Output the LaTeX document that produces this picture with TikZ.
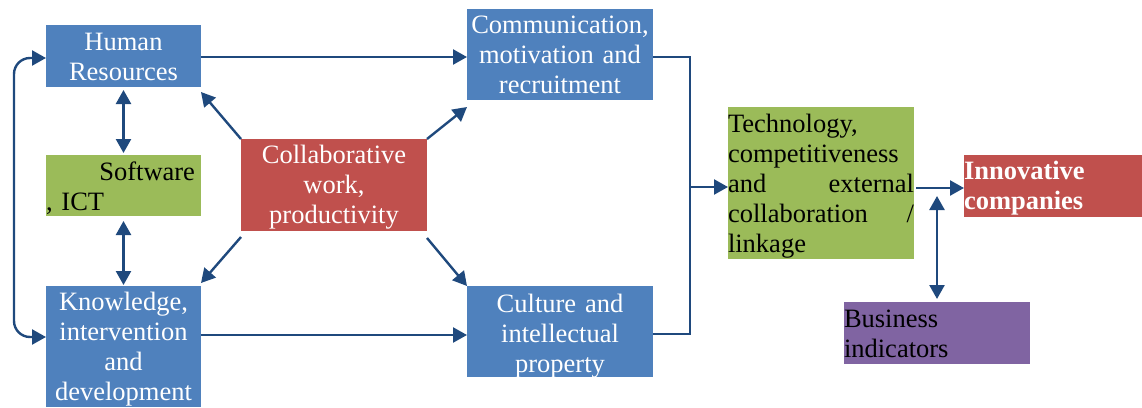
\documentclass[tikz,border=0pt]{standalone}
\usepackage{fontspec}
\setmainfont{Liberation Serif}
\usetikzlibrary{arrows.meta,calc}
\definecolor{boxblue}{HTML}{4F81BD}
\definecolor{boxgreen}{HTML}{9BBB59}
\definecolor{boxred}{HTML}{C0504D}
\definecolor{boxpurple}{HTML}{8064A2}
\definecolor{linkblue}{HTML}{1F497D}

\begin{document}
\begin{tikzpicture}[x=1pt,y=-1pt,
  box/.style={draw=none, inner sep=0pt, outer sep=0pt, anchor=north west},
  lbl/.style={inner sep=0pt, outer sep=0pt, font=\fontsize{26.5}{30}\selectfont},
  mid/.style={lbl, anchor=base, align=center},
  flush/.style={lbl, anchor=base west, align=left},
  wire/.style={draw=linkblue, line width=2.4pt, miter limit=10},
  link/.style={wire, -{Triangle[length=14pt,width=15pt]}},
  twoway/.style={wire, {Triangle[length=14pt,width=15pt]}-{Triangle[length=14pt,width=15pt]}},
]
\useasboundingbox (0,0) rectangle (1142,407);

% boxes
\node[box, fill=boxblue,   minimum width=155pt, minimum height=62pt]  (hr)     at (46,25)  {};
\node[box, fill=boxgreen,  minimum width=155pt, minimum height=61pt]  (sw)     at (46,155) {};
\node[box, fill=boxblue,   minimum width=155pt, minimum height=121pt] (kn)     at (46,286) {};
\node[box, fill=boxred,    minimum width=186pt, minimum height=92pt]  (collab) at (241,139) {};
\node[box, fill=boxblue,   minimum width=186pt, minimum height=91pt]  (comm)   at (467,9)  {};
\node[box, fill=boxblue,   minimum width=186pt, minimum height=91pt]  (cult)   at (467,286) {};
\node[box, fill=boxgreen,  minimum width=186pt, minimum height=152pt] (tech)   at (728,107) {};
\node[box, fill=boxred,    minimum width=178pt, minimum height=62pt]  (innov)  at (964,155) {};
\node[box, fill=boxpurple, minimum width=186pt, minimum height=62pt]  (bus)    at (844,302) {};

% texts
\node[mid, text=white, text width=155pt] at ($(hr.north)+(0,25)$) {Human\\Resources};
\node[flush, text width=155pt] at (46,180) {\hspace*{\fill}Software\kern6pt\\, ICT};
\node[mid, text=white, text width=155pt] at ($(kn.north)+(0,24)$) {Knowledge,\\intervention\\and\\development};
\node[mid, text=white, text width=186pt] at ($(collab.north)+(0,24)$) {Collaborative\\work,\\productivity};
\node[mid, text=white, text width=186pt] at ($(comm.north)+(0,24)$) {Communication,\\motivation and\\recruitment};
\node[mid, text=white, text width=186pt] at ($(cult.north)+(0,26)$) {Culture and\\intellectual\\property};
\node[flush, text width=186pt] at ($(tech.north west)+(0,25)$) {Technology,\\competitiveness\\and\hfill external\\collaboration\hfill /\\linkage};
\node[flush, text=white, text width=178pt, font=\fontsize{26.5}{30}\selectfont\bfseries] at ($(innov.north west)+(0,24)$) {Innovative\\companies};
\node[flush, text width=186pt] at ($(bus.north west)+(0,25)$) {Business\\indicators};

% reference heights and junctions
\coordinate (topY)  at (0,57);
\coordinate (botY)  at (0,335);
\coordinate (loopT) at (0,58);
\coordinate (loopB) at (0,337);
\coordinate (combT) at (690,57);
\coordinate (combB) at (690,334);
\coordinate (comb)  at (690,187);
\coordinate (innY)  at (0,188);
\coordinate (jn)    at (937,188);

% connectors
\draw[link] (hr.east |- topY) -- (comm.west |- topY);
\draw[link] (kn.east |- botY) -- (cult.west |- botY);
\draw[link] (collab.north west) -- ([yshift=-5pt]hr.south east);
\draw[link] (collab.north east) -- ([yshift=-7pt]comm.south west);
\draw[link] ([yshift=-6pt]collab.south west) -- ([yshift=3pt]kn.north east);
\draw[link] ([yshift=-7pt]collab.south east) -- (cult.north west);
\draw[twoway] ([yshift=-3pt]hr.south) -- ([yshift=2pt]sw.north);
\draw[twoway] ([yshift=-5pt]sw.south) -- ([yshift=1pt]kn.north);
\draw[twoway, rounded corners=16pt] (hr.west |- loopT) -- (14,58) -- (14,337) -- (kn.west |- loopB);
\draw[wire] (comm.east |- combT) -- (combT) -- (combB) -- (cult.east |- combB);
\draw[link] (comb) -- (tech.west |- comb);
\draw[link] ([xshift=2pt]tech.east |- innY) -- (innov.west |- innY);
\draw[twoway] ([yshift=-8pt]jn) -- ([yshift=3pt]bus.north);
\end{tikzpicture}
\end{document}
